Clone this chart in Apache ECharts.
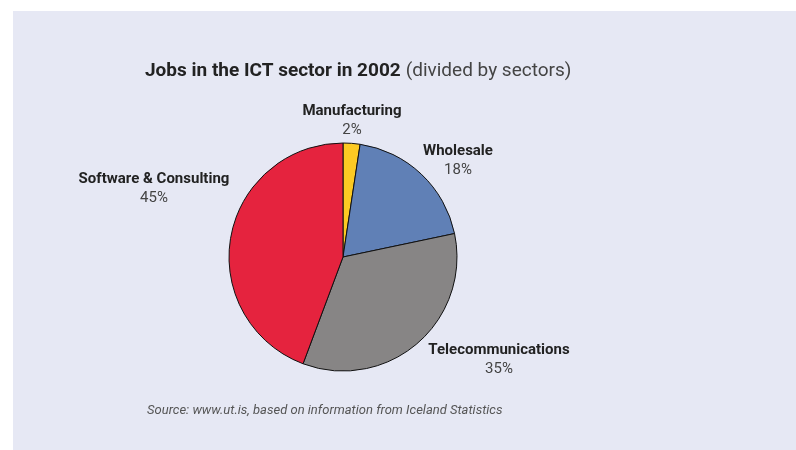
<!DOCTYPE html>
<html>
<head>
<meta charset="utf-8">
<script src="https://cdn.jsdelivr.net/npm/echarts@6/dist/echarts.min.js"></script>
<style>
html,body{margin:0;padding:0;background:#ffffff;}
#main{width:796px;height:450px;}
</style>
</head>
<body>
<div id="main"></div>
<script>
const categories = ['Manufacturing', 'Wholesale', 'Telecommunications', 'Software & Consulting'];
const shares = [2.4, 19.3, 34.0, 44.3];
const shareLabels = ['2%', '18%', '35%', '45%'];
const sliceColors = ['#fcca23', '#6080b6', '#878585', '#e5233e'];
const labelPos = [[352, 121], [458, 161], [499, 360], [154, 189]];

const chart = echarts.init(document.getElementById('main'), null, {renderer: 'canvas'});
const FONT = 'Roboto';
chart.setOption({
  backgroundColor: '#ffffff',
  animation: false,
  graphic: [{
    type: 'rect', z: -10, silent: true,
    shape: {x: 13, y: 11, width: 783, height: 439},
    style: {fill: '#e6e8f4'}
  }, {
    type: 'text', left: 147, top: 404,
    style: {text: 'Source: www.ut.is, based on information from Iceland Statistics',
      fontFamily: FONT, fontStyle: 'italic', fontSize: 13, fill: '#555555'}
  }],
  title: {
    left: 140, top: 57,
    text: '{b|Jobs in the ICT sector in 2002} {n|(divided by sectors)}',
    textStyle: {
      rich: {
        b: {fontFamily: FONT, fontWeight: 'bold', fontSize: 19, color: '#222222'},
        n: {fontFamily: FONT, fontWeight: 'normal', fontSize: 19, color: '#444444'}
      }
    }
  },
  series: [{
    type: 'pie',
    center: [343, 257],
    radius: 114,
    startAngle: 90,
    clockwise: true,
    data: categories.map((c, i) => ({
      name: c, value: shares[i],
      itemStyle: {color: sliceColors[i]},
      label: {formatter: '{n|' + c + '}\n{p|' + shareLabels[i] + '}'}
    })),
    itemStyle: {borderColor: '#111111', borderWidth: 1},
    label: {
      show: true, position: 'outside', align: 'center',
      rich: {
        n: {fontFamily: FONT, fontWeight: 'bold', fontSize: 15, color: '#222222', lineHeight: 19, align: 'center'},
        p: {fontFamily: FONT, fontWeight: 'normal', fontSize: 15, color: '#444444', lineHeight: 19, align: 'center'}
      }
    },
    labelLine: {show: false},
    labelLayout: function (params) {
      let idx = categories.findIndex(c => params.text && params.text.indexOf(c) >= 0);
      if (idx < 0) idx = params.dataIndex;
      const p = labelPos[idx];
      return {x: p[0], y: p[1], align: 'center', verticalAlign: 'middle'};
    },
    emphasis: {disabled: true}
  }]
});
</script>
</body>
</html>
